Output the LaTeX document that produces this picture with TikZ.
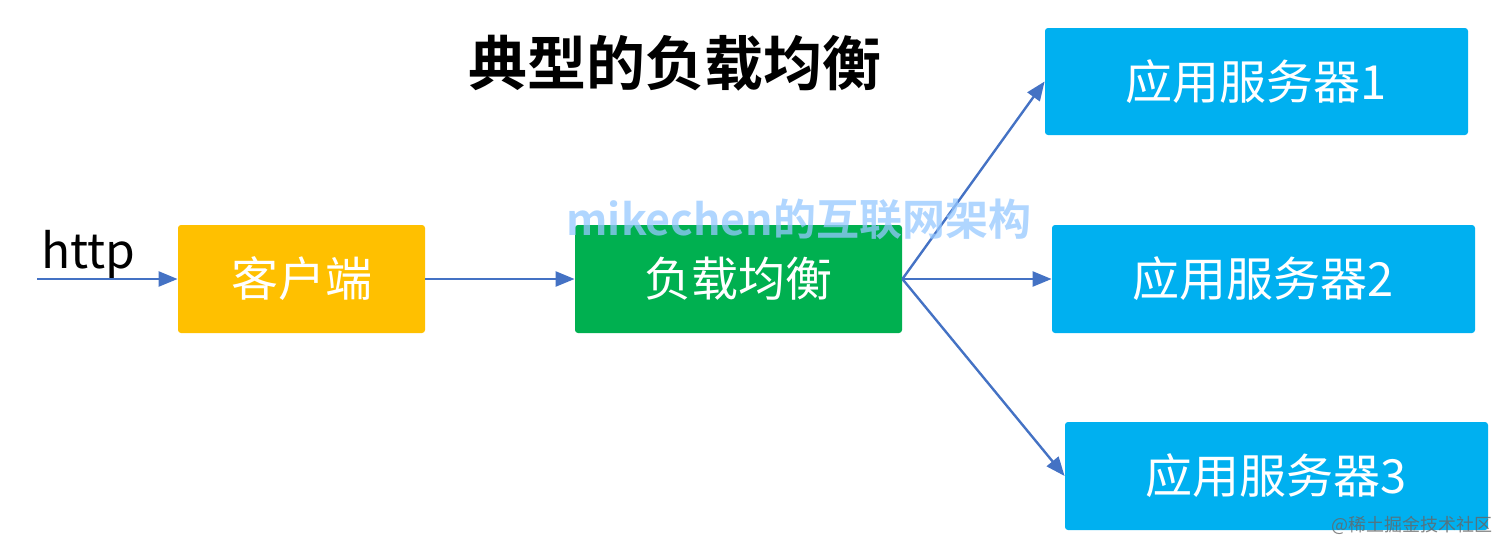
\documentclass[tikz,border=0pt]{standalone}
\usepackage{fontspec}
\newfontfamily\cjk{Noto Sans CJK SC}
\newfontfamily\cjkbold{Noto Sans CJK SC Bold}
\usetikzlibrary{arrows.meta}
\definecolor{cyel}{RGB}{255,192,0}
\definecolor{cgrn}{RGB}{0,176,80}
\definecolor{cblu}{RGB}{0,176,240}
\definecolor{carr}{RGB}{68,114,196}
\definecolor{cwm}{RGB}{150,200,255}
\tikzset{
  boxnode/.style={rounded corners=1.5pt, inner sep=0pt, text=white, font=\cjk\fontsize{23.5}{26}\selectfont},
  conn/.style={draw=carr, line width=1.2pt, -{Triangle[length=9.5pt,width=7.5pt]}}
}
\begin{document}
\begin{tikzpicture}[x=0.5pt,y=-0.5pt]
\useasboundingbox (0,0) rectangle (1512,552);
\node[font=\cjkbold\fontsize{29.5}{32}\selectfont] (title) at (675,63) {典型的负载均衡};
\node[boxnode, fill=cyel, minimum width=123.5pt, minimum height=54pt] (client) at (301.5,279) {客户端};
\node[boxnode, fill=cgrn, minimum width=163.5pt, minimum height=54pt] (lb) at (738.5,279) {负载均衡};
\node[boxnode, fill=cblu, minimum width=211.5pt, minimum height=53.5pt] (s1) at (1256.5,81.5) {应用服务器1};
\node[boxnode, fill=cblu, minimum width=211.5pt, minimum height=54pt] (s2) at (1263.5,279) {应用服务器2};
\node[boxnode, fill=cblu, minimum width=211.5pt, minimum height=54pt] (s3) at (1276.5,476) {应用服务器3};
\node[font=\cjk\fontsize{24}{26}\selectfont, anchor=base west, inner sep=0pt] (http) at (41,268) {http};
\coordinate (start) at (37,279);
\draw[conn] (start) -- (client.west);
\draw[conn] (client.east) -- (lb.west);
\draw[conn] (lb.east) -- (s1.west);
\draw[conn] (lb.east) -- (s2.west);
\draw[conn] (lb.east) -- (s3.west);
\node[font=\cjkbold\fontsize{21.5}{24}\selectfont, text=cwm, text opacity=0.75, inner sep=0pt] (wm) at (799,219) {mikechen的互联网架构};
\node[font=\cjk\fontsize{9}{11}\selectfont, text=gray!80!black, text opacity=0.8, inner sep=0pt, anchor=east] (wm2) at (1493,525) {@稀土掘金技术社区};
\end{tikzpicture}
\end{document}
